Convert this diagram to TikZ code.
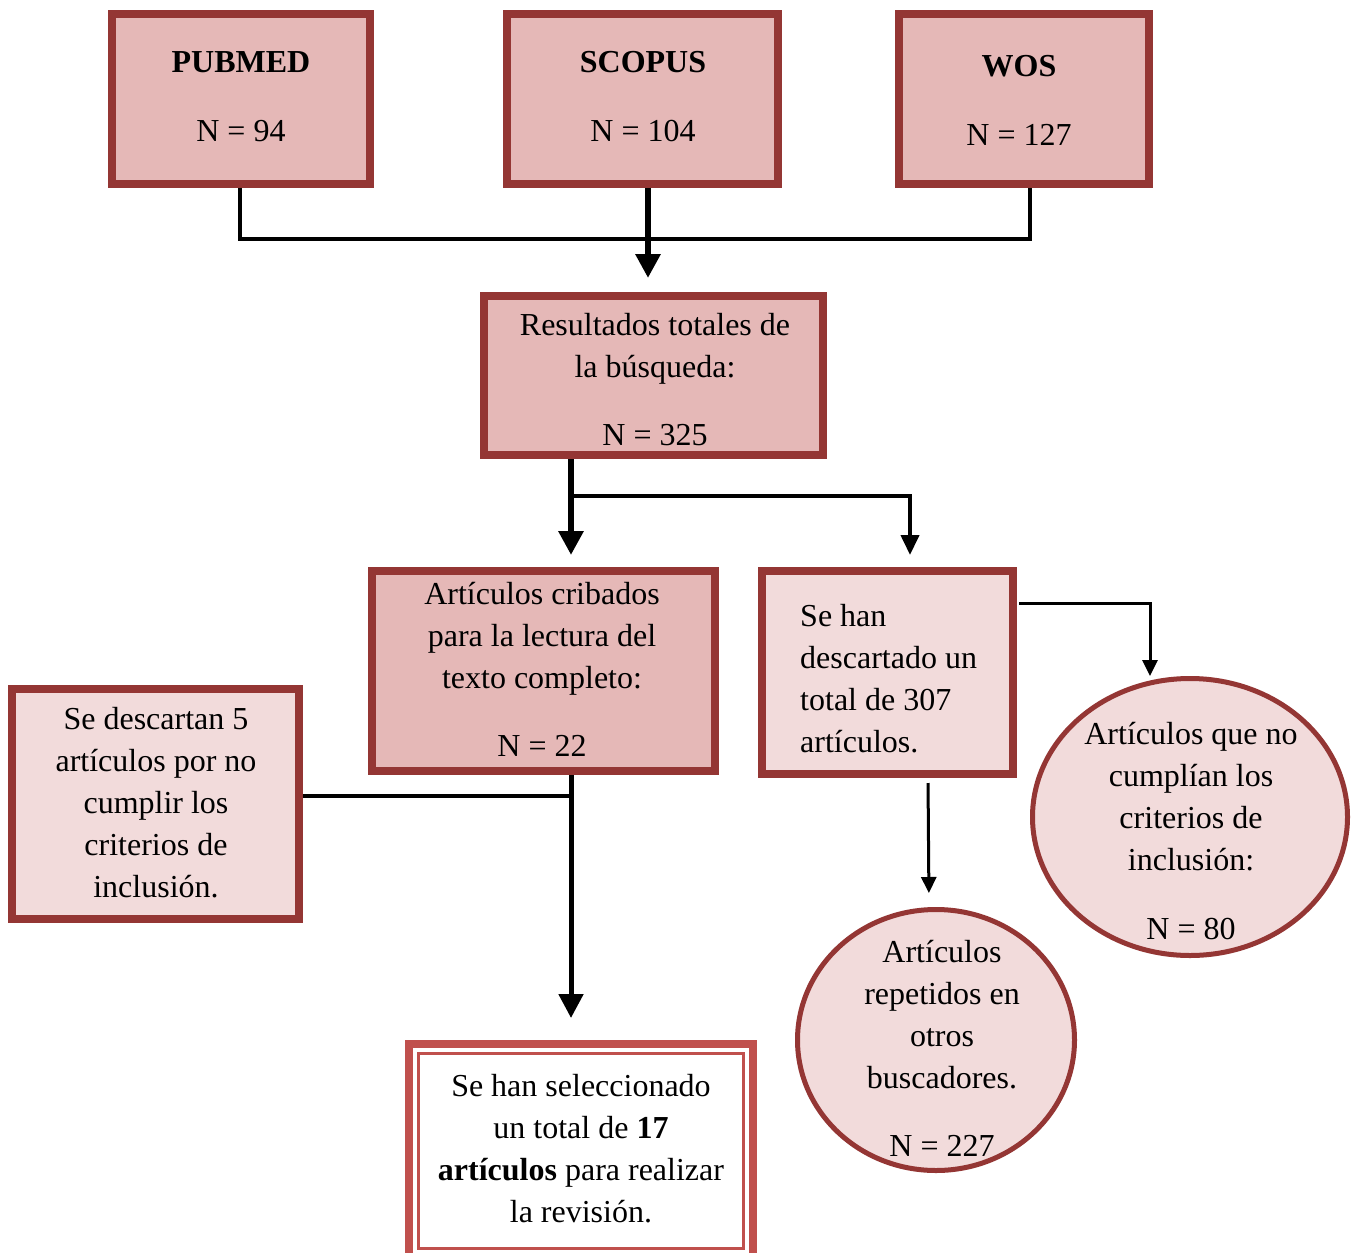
\documentclass[tikz,border=0pt]{standalone}
\usepackage{fontspec}
\setmainfont{Liberation Serif}
\usetikzlibrary{arrows.meta,shapes.geometric,calc}
\definecolor{bord}{HTML}{943634}
\definecolor{fdark}{HTML}{E5B8B7}
\definecolor{flight}{HTML}{F2DBDB}
\definecolor{fbord}{HTML}{C0504D}
\begin{document}
\begin{tikzpicture}[x=1pt,y=-1pt,
  box/.style={draw=bord,line width=8pt,rectangle,inner sep=0pt},
  darkbox/.style={box,fill=fdark},
  lightbox/.style={box,fill=flight},
  oval/.style={draw=bord,line width=5pt,ellipse,fill=flight,inner sep=0pt},
  txt/.style={font=\fontsize{32}{42}\selectfont,align=center,anchor=base,inner sep=0pt},
  conn/.style={line width=4.5pt},
  bigarrow/.style={line width=6pt,-{Triangle[length=24pt,width=24pt]}},
  midarrow/.style={line width=4pt,-{Triangle[length=20pt,width=18pt]}},
  smallarrow/.style={line width=3pt,-{Triangle[length=16pt,width=15pt]}}
]
\path[use as bounding box] (0,0) rectangle (1359,1252);
\clip (0,0) rectangle (1359,1252);
\fill[white] (0,0) rectangle (1359,1252);

% boxes
\node[darkbox,minimum width=258pt,minimum height=170pt] (pub) at (241,99) {};
\node[darkbox,minimum width=271pt,minimum height=170pt] (sco) at (642.5,99) {};
\node[darkbox,minimum width=250pt,minimum height=170pt] (wos) at (1024,99) {};
\node[darkbox,minimum width=339pt,minimum height=159pt] (res) at (653.5,375.5) {};
\node[darkbox,minimum width=343pt,minimum height=200pt] (cri) at (543.5,671) {};
\node[lightbox,minimum width=251pt,minimum height=203pt] (desc) at (887.5,672.5) {};
\node[lightbox,minimum width=287pt,minimum height=230pt] (dsc) at (155.5,804) {};
\node[draw=fbord,line width=8pt,fill=white,rectangle,inner sep=0pt,minimum width=344pt,minimum height=214pt] (fin) at (581,1151) {};
\draw[fbord,line width=2.5pt] ($(fin.north west)+(13.5,13.5)$) rectangle ($(fin.south east)+(-13.5,-13.5)$);
\node[oval,minimum width=315pt,minimum height=277pt] (c1) at (1190,817) {};
\node[oval,minimum width=277pt,minimum height=261pt] (c2) at (936,1040) {};

% texts (anchor = baseline of last line)
\node[txt] (tpub) at (241,142) {\textbf{PUBMED}\\[27pt]N = 94};
\node[txt] (tsco) at (643,142) {\textbf{SCOPUS}\\[27pt]N = 104};
\node[txt] (twos) at (1019,146) {\textbf{WOS}\\[27pt]N = 127};
\node[txt] (tres) at (655,445) {Resultados totales de\\la búsqueda:\\[26pt]N = 325};
\node[txt] (tcri) at (542,756) {Artículos cribados\\para la lectura del\\texto completo:\\[26pt]N = 22};
\node[txt,anchor=base west,align=left] (tdesc) at (800,752) {Se han\\descartado un\\total de 307\\artículos.};
\node[txt] (tdsc) at (156,897) {Se descartan 5\\artículos por no\\cumplir los\\criterios de\\inclusión.};
\node[txt] (tfin) at (581,1222) {Se han seleccionado\\un total de \textbf{17}\\\textbf{artículos} para realizar\\la revisión.};
\node[txt] (tc1) at (1191,939) {Artículos que no\\cumplían los\\criterios de\\inclusión:\\[27pt]N = 80};
\node[txt] (tc2) at (942,1156) {Artículos\\repetidos en\\otros\\buscadores.\\[26pt]N = 227};

% connectors
\draw[conn] ([xshift=-1pt]pub.south) -- ++(0,51) -| ([xshift=6pt]wos.south);
\draw[bigarrow,shorten >=14pt] ([xshift=5.5pt]sco.south) -- ([xshift=-5.5pt]res.north);
\draw[bigarrow,shorten >=12pt] ([xshift=-82.5pt]res.south) -- ([xshift=27.5pt]cri.north);
\draw[midarrow,shorten >=12pt] ($(res.south)+(-82.5,37)$) -| ([xshift=22.5pt]desc.north);
\draw[bigarrow,line width=5pt,shorten >=22pt] ([xshift=27.5pt]cri.south) -- ([xshift=-10pt]fin.north);
\draw[conn,line width=4pt] ($(dsc.east)+(0,-8)$) -- ($(cri.south)+(27.5,21)$);
\draw[smallarrow] ($(desc.east)+(2,-69.5)$) -| ($(c1.north)+(-40,0)$);
\draw[smallarrow,shorten <=5pt,shorten >=14pt] ([xshift=40.5pt]desc.south) -- ([xshift=-7pt]c2.north);
\end{tikzpicture}
\end{document}
